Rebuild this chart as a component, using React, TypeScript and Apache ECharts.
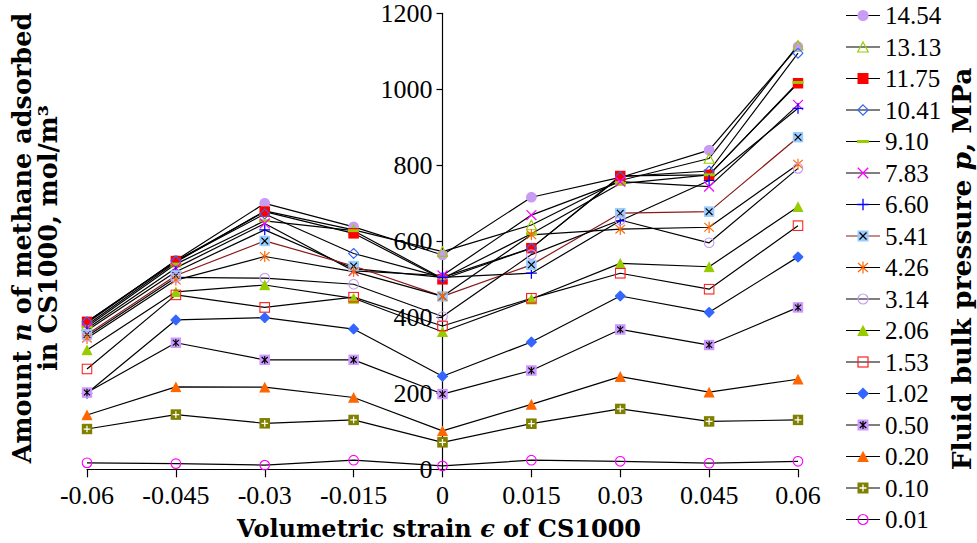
import React, { useEffect, useRef } from 'react';
import * as echarts from 'echarts';

// Volumetric strain (x) values
const strains = [-0.06, -0.045, -0.03, -0.015, 0, 0.015, 0.03, 0.045, 0.06];
const yTicks = [0, 200, 400, 600, 800, 1000, 1200];

// Pressures (legend)
const pressures = ['14.54', '13.13', '11.75', '10.41', '9.10', '7.83', '6.60', '5.41', '4.26', '3.14', '2.06', '1.53', '1.02', '0.50', '0.20', '0.10', '0.01'];

// Amount adsorbed for each pressure
const p1454 = [385, 550, 700, 638, 564, 716, 768, 840, 1112];
const p1313 = [380, 545, 680, 630, 573, 643, 760, 818, 1116];
const p1175 = [388, 548, 678, 621, 500, 582, 772, 775, 1016];
const p1041 = [388, 548, 672, 568, 505, 582, 770, 785, 1095];
const p910 = [375, 540, 654, 628, 502, 620, 752, 775, 1018];
const p783 = [370, 530, 647, 522, 510, 669, 757, 744, 959];
const p660 = [365, 520, 630, 528, 505, 516, 654, 760, 950];
const p541 = [355, 510, 601, 535, 455, 538, 674, 678, 874];
const p426 = [345, 498, 560, 520, 455, 617, 632, 637, 803];
const p314 = [350, 505, 503, 487, 402, 565, 656, 596, 792];
const p206 = [314, 467, 485, 450, 362, 448, 542, 533, 691];
const p153 = [264, 459, 426, 453, 377, 450, 516, 474, 641];
const p102 = [200, 393, 399, 369, 245, 335, 456, 413, 559];
const p050 = [202, 333, 288, 288, 198, 260, 368, 327, 426];
const p020 = [143, 217, 216, 189, 101, 171, 244, 203, 237];
const p010 = [106, 144, 121, 130, 71, 120, 159, 126, 130];
const p001 = [17, 15, 11, 24, 9, 24, 21, 16, 21];

const seriesValues = [p1454, p1313, p1175, p1041, p910, p783, p660, p541, p426, p314, p206, p153, p102, p050, p020, p010, p001];

// Marker styles
const markerKinds = ['circleF', 'triO', 'sqF', 'diaO', 'bar', 'x', 'plus', 'sqX', 'star', 'circleO', 'triF', 'sqO', 'diaF', 'sqStar', 'triF', 'sqPlus', 'circleO'];
const markerColors = ['#c79cf2', '#99cc00', '#ff0000', '#3366ff', '#99cc00', '#ff00ff', '#0000ff', '#99ccff', '#ff6600', '#c79cf2', '#99cc00', '#ff2020', '#3366ff', '#cc99ff', '#ff6600', '#808000', '#ff00ff'];
const lineColors = pressures.map((p) => (p === '5.41' ? '#8b1a1a' : '#000000'));

function markerInner(kind: string, c: string): string {
  switch (kind) {
    case 'circleF':
      return `<circle cx="6" cy="6" r="5.6" fill="${c}"/>`;
    case 'circleO':
      return `<circle cx="6" cy="6" r="5" fill="none" stroke="${c}" stroke-width="1.2"/>`;
    case 'triF':
      return `<polygon points="6,0.3 11.9,11.6 0.1,11.6" fill="${c}"/>`;
    case 'triO':
      return `<polygon points="6,1 11.3,11 0.7,11" fill="none" stroke="${c}" stroke-width="1.2"/>`;
    case 'sqF':
      return `<rect x="0.5" y="0.5" width="11" height="11" fill="${c}"/>`;
    case 'sqO':
      return `<rect x="1" y="1" width="10" height="10" fill="none" stroke="${c}" stroke-width="1.2"/>`;
    case 'diaF':
      return `<polygon points="6,0 12,6 6,12 0,6" fill="${c}"/>`;
    case 'diaO':
      return `<polygon points="6,0.8 11.2,6 6,11.2 0.8,6" fill="none" stroke="${c}" stroke-width="1.2"/>`;
    case 'bar':
      return `<rect x="0" y="4.5" width="12" height="3" fill="${c}"/>`;
    case 'x':
      return `<path d="M0.8,0.8L11.2,11.2M11.2,0.8L0.8,11.2" stroke="${c}" stroke-width="1.3" fill="none"/>`;
    case 'plus':
      return `<path d="M6,0.3V11.7M0.3,6H11.7" stroke="${c}" stroke-width="1.3" fill="none"/>`;
    case 'star':
      return `<path d="M1,1.5L11,10.5M11,1.5L1,10.5M6,0V12" stroke="${c}" stroke-width="1.2" fill="none"/>`;
    case 'sqX':
      return `<rect x="0.5" y="0.5" width="11" height="11" fill="${c}"/><path d="M2.5,2.5L9.5,9.5M9.5,2.5L2.5,9.5" stroke="#000" stroke-width="1.2" fill="none"/>`;
    case 'sqStar':
      return `<rect x="0.5" y="0.5" width="11" height="11" fill="${c}"/><path d="M2.8,3L9.2,9M9.2,3L2.8,9M6,2V10" stroke="#000" stroke-width="1.2" fill="none"/>`;
    case 'sqPlus':
      return `<rect x="0.5" y="0.5" width="11" height="11" fill="${c}"/><path d="M6,2.5V9.5M2.5,6H9.5" stroke="#fff" stroke-width="1.3" fill="none"/>`;
    default:
      return '';
  }
}

function toUri(svg: string): string {
  return 'image://data:image/svg+xml;charset=utf-8,' + encodeURIComponent(svg);
}

function symbolUri(i: number): string {
  return toUri(
    `<svg xmlns="http://www.w3.org/2000/svg" width="24" height="24" viewBox="0 0 12 12">${markerInner(markerKinds[i], markerColors[i])}</svg>`
  );
}

function legendUri(i: number): string {
  return toUri(
    `<svg xmlns="http://www.w3.org/2000/svg" width="68" height="26" viewBox="0 0 34 13"><line x1="0" y1="6.5" x2="34" y2="6.5" stroke="${lineColors[i]}" stroke-width="1.2"/><g transform="translate(11,0.5)">${markerInner(markerKinds[i], markerColors[i])}</g></svg>`
  );
}

const numFont = "'Liberation Serif', 'Times New Roman', serif";
const titleFont = 'DejaVu Serif';

export default function App() {
  const ref = useRef<HTMLDivElement>(null);
  useEffect(() => {
    if (!ref.current) return;
    const chart = echarts.init(ref.current, undefined, { renderer: 'svg' });
    const gridLeft = 87;
    const plotWidth = 977 - 87 - 179;
    const zeroX = gridLeft + plotWidth / 2;
    const series = pressures.map((name, i) => ({
      name,
      type: 'line',
      data: strains.map((s, k) => [s, seriesValues[i][k]]),
      symbol: symbolUri(i),
      symbolSize: 11.5,
      showAllSymbol: true,
      lineStyle: { color: lineColors[i], width: 1.2 },
      itemStyle: { color: markerColors[i] },
      emphasis: { disabled: true },
    }));
    const rich = (size: number) => ({ i: { fontStyle: 'italic', fontWeight: 'bold', fontFamily: titleFont, fontSize: size } });
    chart.setOption({
      animation: false,
      backgroundColor: '#ffffff',
      grid: { left: gridLeft, right: 179, top: 13.3, bottom: 73.7, containLabel: false, outerBoundsMode: 'none' },
      xAxis: {
        type: 'value',
        min: -0.06,
        max: 0.06,
        interval: 0.015,
        splitLine: { show: false },
        axisLine: { show: true, onZero: false, lineStyle: { color: '#000', width: 1.2 } },
        axisTick: { show: true, length: 8, lineStyle: { color: '#000', width: 1.2 } },
        axisLabel: {
          color: '#000',
          fontFamily: numFont,
          fontSize: 26,
          margin: 13,
          formatter: (v: number) => String(parseFloat(v.toFixed(3))),
        },
      },
      yAxis: {
        type: 'value',
        position: 'left',
        offset: gridLeft - zeroX,
        min: yTicks[0],
        max: yTicks[yTicks.length - 1],
        interval: 200,
        splitLine: { show: false },
        axisLine: { show: true, onZero: false, lineStyle: { color: '#000', width: 1.2 } },
        axisTick: { show: true, length: 6, lineStyle: { color: '#000', width: 1.2 } },
        axisLabel: {
          color: '#000',
          fontFamily: numFont,
          fontSize: 26,
          margin: 10,
          formatter: (v: number) => String(v),
        },
      },
      legend: {
        orient: 'vertical',
        left: 841,
        top: -2,
        itemWidth: 34,
        itemHeight: 13,
        itemGap: 6.5,
        selectedMode: false,
        textStyle: { color: '#000', fontFamily: numFont, fontSize: 25, lineHeight: 25 },
        data: pressures.map((name, i) => ({ name, icon: legendUri(i) })),
      },
      graphic: [
        {
          type: 'text',
          x: 35,
          y: 238,
          rotation: Math.PI / 2,
          style: {
            text: 'Amount {i|n} of methane adsorbed\nin CS1000, mol/m³',
            fontFamily: titleFont,
            fontWeight: 'bold',
            fontSize: 25.5,
            lineHeight: 26,
            fill: '#000',
            align: 'center',
            verticalAlign: 'middle',
            rich: rich(25.5),
          },
        },
        {
          type: 'text',
          x: 961,
          y: 269,
          rotation: Math.PI / 2,
          style: {
            text: 'Fluid bulk pressure {i|p}, MPa',
            fontFamily: titleFont,
            fontWeight: 'bold',
            fontSize: 26.5,
            fill: '#000',
            align: 'center',
            verticalAlign: 'middle',
            rich: rich(26.5),
          },
        },
        {
          type: 'text',
          x: 439,
          y: 528,
          style: {
            text: 'Volumetric strain {i|ϵ} of CS1000',
            fontFamily: titleFont,
            fontWeight: 'bold',
            fontSize: 24,
            fill: '#000',
            align: 'center',
            verticalAlign: 'middle',
            rich: rich(24),
          },
        },
      ],
      series,
    });
    return () => chart.dispose();
  }, []);
  return <div ref={ref} style={{ position: 'fixed', left: 0, top: 0, width: 977, height: 543 }} />;
}
